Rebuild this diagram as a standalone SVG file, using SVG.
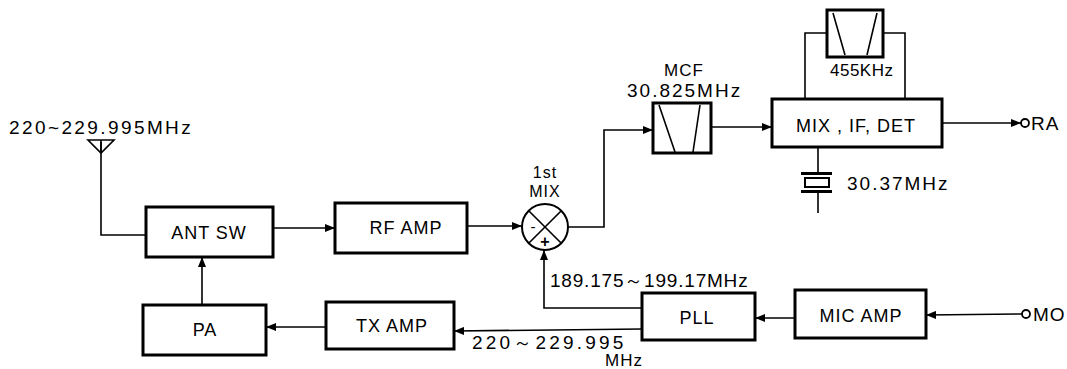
<svg xmlns="http://www.w3.org/2000/svg" width="1067" height="369" viewBox="0 0 1067 369">
<defs>
<marker id="ah" viewBox="0 0 10 8" refX="10" refY="4" markerWidth="10" markerHeight="8" markerUnits="userSpaceOnUse" orient="auto">
<path d="M0,0 L10,4 L0,8 Z" fill="#000"/>
</marker>
</defs>
<style>
.box{fill:#fff;stroke:#000;stroke-width:3}
.thin{fill:none;stroke:#000;stroke-width:1.6}
.ln{fill:none;stroke:#000;stroke-width:1.6}
.arr{fill:none;stroke:#000;stroke-width:1.6;marker-end:url(#ah)}
text{font-family:"Liberation Sans","DejaVu Sans",Arial,sans-serif;fill:#000}
.lbl{font-size:18px;text-anchor:middle;letter-spacing:1px}
.freq{font-size:19px;letter-spacing:2px}
</style>
<rect width="1067" height="369" fill="#fff"/>

<g id="connectors">
<polyline class="ln" points="101,142 101,235 146,235"/>
<line class="arr" x1="273" y1="228" x2="335" y2="228"/>
<line class="arr" x1="467" y1="226" x2="522" y2="226"/>
<polyline class="arr" points="568,227 604,227 604,130 653,130"/>
<line class="arr" x1="711" y1="127" x2="772" y2="127"/>
<line class="arr" x1="942" y1="123" x2="1021" y2="123"/>
<polyline class="ln" points="827,33 805,33 805,99"/>
<polyline class="ln" points="883,33 905,33 905,99"/>
<line class="ln" x1="818" y1="147" x2="818" y2="173"/>
<line class="ln" x1="818" y1="192" x2="818" y2="213"/>
<line class="arr" x1="202" y1="305" x2="202" y2="257"/>
<line class="arr" x1="326" y1="327" x2="266" y2="327"/>
<line class="arr" x1="642" y1="329" x2="454" y2="331"/>
<polyline class="arr" points="642,308 544,308 544,250"/>
<line class="arr" x1="795" y1="318" x2="755" y2="318"/>
<line class="arr" x1="1022" y1="314" x2="926" y2="315"/>
</g>

<g id="antenna">
<path class="thin" d="M88,140 L114,140 L101,153 Z M101,140 L101,153"/>
<text class="freq" x="9" y="134" style="letter-spacing:2.4px">220~229.995MHz</text>
</g>

<g id="ant-sw">
<rect class="box" x="146" y="207" width="127" height="50"/>
<text class="lbl" x="209" y="239">ANT SW</text>
</g>

<g id="rf-amp">
<rect class="box" x="335" y="203" width="132" height="50"/>
<text class="lbl" x="406" y="234">RF AMP</text>
</g>

<g id="mix1">
<circle cx="545" cy="227" r="23" fill="#fff" stroke="#000" stroke-width="2"/>
<path class="thin" d="M528.7,210.7 L561.3,243.3 M561.3,210.7 L528.7,243.3"/>
<text x="533" y="232" font-size="15" text-anchor="middle">-</text>
<text x="545" y="247" font-size="16" text-anchor="middle" font-weight="bold">+</text>
<text class="lbl" x="545" y="178" style="font-size:16px">1st</text>
<text class="lbl" x="545" y="197" style="font-size:16px">MIX</text>
</g>

<g id="mcf">
<rect class="box" x="653" y="103" width="58" height="50"/>
<path class="thin" d="M659,105 L675,152 M700,105 L693,152"/>
<text class="lbl" x="684" y="76" style="font-size:17px">MCF</text>
<text class="freq" x="627" y="97">30.825MHz</text>
</g>

<g id="mix-if-det">
<rect class="box" x="772" y="99" width="170" height="48"/>
<text class="lbl" x="856" y="132">MIX , IF, DET</text>
</g>

<g id="filter455">
<rect class="box" x="827" y="10" width="56" height="47"/>
<path class="thin" d="M833,13 L845,55 M877,13 L867,55"/>
<text class="freq" x="830" y="76" style="font-size:17px;letter-spacing:0.5px">455KHz</text>
</g>

<g id="crystal">
<line x1="801" y1="173.5" x2="832" y2="173.5" stroke="#000" stroke-width="3"/>
<rect x="805" y="178" width="24" height="9" fill="#fff" stroke="#000" stroke-width="2"/>
<line x1="801" y1="191.5" x2="832" y2="191.5" stroke="#000" stroke-width="3"/>
<text class="freq" x="847" y="190">30.37MHz</text>
</g>

<g id="ra">
<circle cx="1025" cy="123" r="4" fill="#fff" stroke="#000" stroke-width="1.8"/>
<text class="freq" x="1031" y="130" style="letter-spacing:1px">RA</text>
</g>

<g id="pa">
<rect class="box" x="143" y="305" width="123" height="50"/>
<text class="lbl" x="205" y="336">PA</text>
</g>

<g id="tx-amp">
<rect class="box" x="326" y="302" width="128" height="47"/>
<text class="lbl" x="392" y="332">TX AMP</text>
</g>

<g id="pll">
<rect class="box" x="642" y="293" width="113" height="47"/>
<text class="lbl" x="697" y="324">PLL</text>
<text class="freq" x="550" y="287" style="letter-spacing:0.8px">189.175～199.17MHz</text>
<text class="freq" x="472" y="349" style="letter-spacing:3.2px">220～229.995</text>
<text class="freq" x="605" y="366" style="font-size:17px;letter-spacing:1px">MHz</text>
</g>

<g id="mic-amp">
<rect class="box" x="795" y="290" width="131" height="48"/>
<text class="lbl" x="861" y="322">MIC AMP</text>
</g>

<g id="mo">
<circle cx="1026" cy="314" r="4" fill="#fff" stroke="#000" stroke-width="1.8"/>
<text class="freq" x="1033" y="321" style="letter-spacing:1px">MO</text>
</g>
</svg>
